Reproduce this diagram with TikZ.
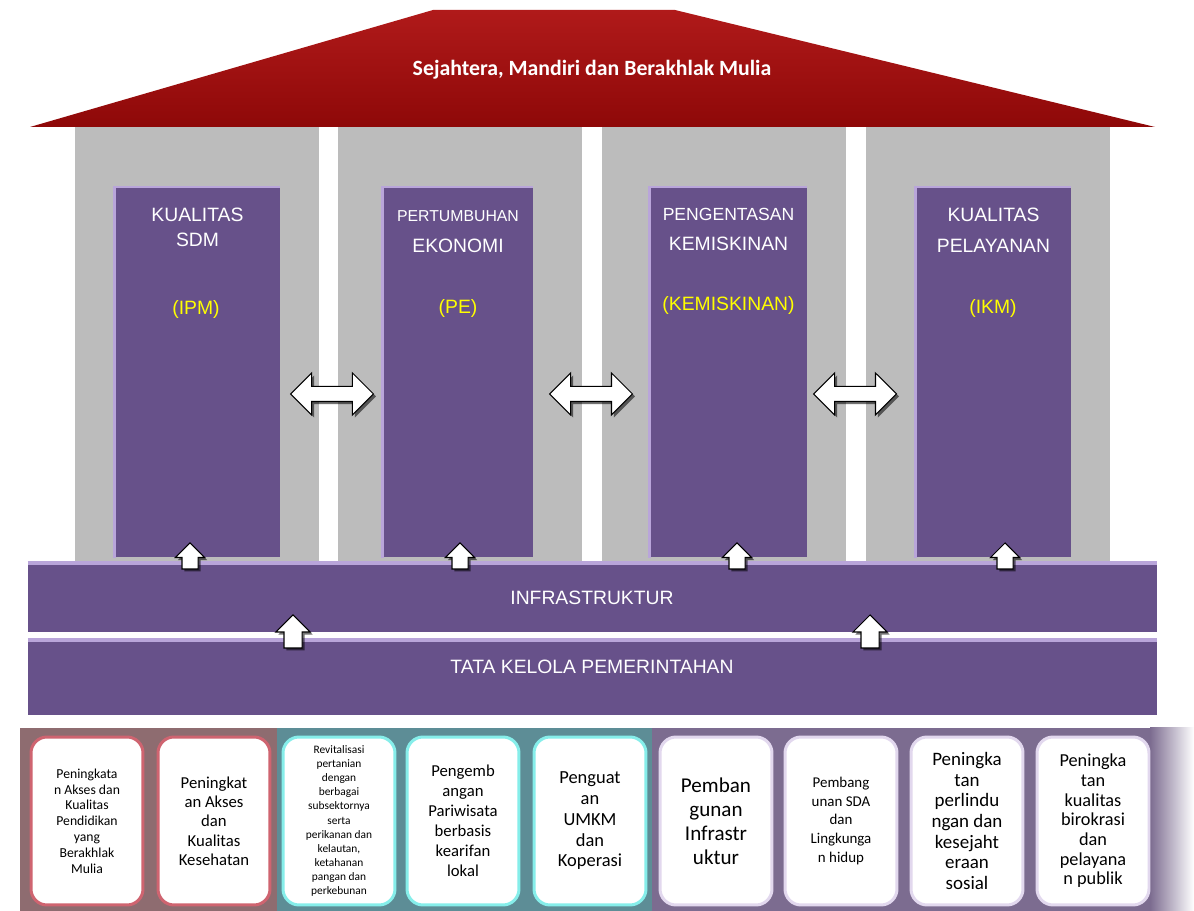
\documentclass[tikz,border=0pt]{standalone}
\usepackage{fontspec}
\setmainfont{Liberation Sans}
\newfontfamily\cardfont{Carlito}
\usetikzlibrary{shapes.arrows,shadows}
\definecolor{roofred}{HTML}{8E0808}
\definecolor{rooftop}{HTML}{B01A1A}
\definecolor{pillarpurple}{HTML}{67518A}
\definecolor{pillarlight}{HTML}{B9A5DA}
\definecolor{wallgray}{HTML}{BCBCBC}
\definecolor{labelyellow}{HTML}{FFFF00}
\definecolor{cardred}{HTML}{CF6470}
\definecolor{cardteal}{HTML}{86EEEA}
\definecolor{cardlilac}{HTML}{E2D8EE}
\definecolor{bandred}{HTML}{8E6C70}
\definecolor{bandteal}{HTML}{5D8D96}
\definecolor{bandlilac}{HTML}{7C6C90}

\begin{document}
\begin{tikzpicture}[x=0.02cm,y=-0.02cm,
  pillar/.style={fill=pillarpurple, anchor=north, minimum height=7.4cm, inner sep=0},
  bar/.style={fill=pillarpurple, minimum width=22.58cm, inner sep=0},
  bartext/.style={text=white, inner sep=0, font=\fontsize{11}{13}\selectfont},
  ptitle/.style={text=white, inner sep=0},
  pindex/.style={text=labelyellow, inner sep=0, font=\fontsize{11}{13}\selectfont},
  twoway/.style={double arrow, double arrow head extend=0.27cm, double arrow tip angle=90,
    minimum height=1.66cm, inner xsep=0, inner ysep=0.14cm, draw=black, line width=0.6pt, fill=white,
    drop shadow={shadow xshift=0.05cm, shadow yshift=-0.05cm, fill=black, opacity=0.55}},
  upsmall/.style={single arrow, rotate=90, single arrow head extend=0.13cm, single arrow tip angle=90,
    minimum height=0.52cm, inner xsep=0, inner ysep=0.15cm, draw=black, line width=0.6pt, fill=white,
    drop shadow={shadow xshift=0.05cm, shadow yshift=-0.05cm, fill=black, opacity=0.55}},
  upbig/.style={upsmall, single arrow head extend=0.16cm, minimum height=0.66cm, inner ysep=0.17cm},
  card/.style={draw=#1, line width=0.06cm, fill=white, rounded corners=0.32cm, minimum width=2.24cm,
    minimum height=3.36cm, align=center, inner sep=0}
]
\useasboundingbox (0,0) rectangle (1194,911);
\fill[white] (0,0) rectangle (1194,911);

\foreach \wx in {75,338,602,866}
  \fill[wallgray] (\wx,127) rectangle ++(244,436);

\shade[top color=rooftop, bottom color=roofred] (30,127) -- (433,10) -- (675,10) -- (1155,127) -- cycle;
\node[text=white, inner sep=0, font=\cardfont\bfseries\fontsize{12.4}{15}\selectfont] (motto) at (592,70) {Sejahtera, Mandiri dan Berakhlak Mulia};

\node[pillar, minimum width=3.3cm] (sdm) at (197.5,187) {};
\node[pillar, minimum width=3.0cm] (ekonomi) at (458,187) {};
\node[pillar, minimum width=3.14cm] (miskin) at (728.5,187) {};
\node[pillar, minimum width=3.1cm] (layan) at (993.5,187) {};
\foreach \p in {sdm,ekonomi,miskin,layan}
  \draw[pillarlight, line width=0.05cm] (\p.south west) -- (\p.north west) -- (\p.north east);

\node[ptitle, font=\fontsize{11}{13}\selectfont] (sdm1) at (197.5,215) {KUALITAS};
\node[ptitle, font=\fontsize{11}{13}\selectfont] (sdm2) at (197.5,240) {SDM};
\node[pindex] (ipm) at (196,310) {(IPM)};
\node[ptitle, font=\fontsize{9}{11}\selectfont] (eko1) at (458,216) {PERTUMBUHAN};
\node[ptitle, font=\fontsize{11}{13}\selectfont] (eko2) at (458,246) {EKONOMI};
\node[pindex] (pe) at (458,309) {(PE)};
\node[ptitle, font=\fontsize{10}{12}\selectfont] (mis1) at (728.5,214) {PENGENTASAN};
\node[ptitle, font=\fontsize{11}{13}\selectfont] (mis2) at (728.5,244) {KEMISKINAN};
\node[pindex] (kem) at (728.5,306) {(KEMISKINAN)};
\node[ptitle, font=\fontsize{11}{13}\selectfont] (lay1) at (993.5,215) {KUALITAS};
\node[ptitle, font=\fontsize{11}{13}\selectfont] (lay2) at (993.5,246) {PELAYANAN};
\node[pindex] (ikm) at (993,309) {(IKM)};

\node[twoway] (a12) at (332,394) {};
\node[twoway] (a23) at (591,394) {};
\node[twoway] (a34) at (855,394) {};

\node[bar, minimum height=1.38cm] (infra) at (592.5,597.5) {};
\node[bar, minimum height=1.5cm] (tata) at (592.5,677.5) {};
\foreach \b in {infra,tata}
  \draw[pillarlight, line width=0.08cm] (\b.north west) -- (\b.north east);
\node[bartext] (infratext) at (592,598) {INFRASTRUKTUR};
\node[bartext] (tatatext) at (592,667) {TATA KELOLA PEMERINTAHAN};

\foreach \p/\ux in {sdm/190,ekonomi/460,miskin/737,layan/1005}
  \node[upsmall] (up\p) at (\ux,560) {};
\node[upbig] (upleft) at (293,636) {};
\node[upbig] (upright) at (870,636) {};

\fill[bandred] (20,728) rectangle (277,911);
\fill[bandteal] (277,728) rectangle (652,911);
\fill[bandlilac] (652,728) rectangle (1150,911);
\shade[left color=bandlilac, right color=white] (1150,728) rectangle (1194,911);

\foreach \n/\cx/\col/\fs/\fb/\txt in {
  1/87/cardred/7.8/9/{Peningkata\\n Akses dan\\Kualitas\\Pendidikan\\yang\\Berakhlak\\Mulia},
  2/214/cardred/9.5/11/{Peningkat\\an Akses\\dan\\Kualitas\\Kesehatan},
  3/339/cardteal/6.5/8/{Revitalisasi\\pertanian\\dengan\\berbagai\\subsektornya\\serta\\perikanan dan\\kelautan,\\ketahanan\\pangan dan\\perkebunan},
  4/463/cardteal/9.5/11.4/{Pengemb\\angan\\Pariwisata\\berbasis\\kearifan\\lokal},
  5/590/cardteal/10.5/11.8/{Penguat\\an\\UMKM\\dan\\Koperasi},
  6/716/cardlilac/12/13.6/{Pemban\\gunan\\Infrastr\\uktur},
  7/841/cardlilac/8.5/10.6/{Pembang\\unan SDA\\dan\\Lingkunga\\n hidup},
  8/967/cardlilac/10.8/11.8/{Peningka\\tan\\perlindu\\ngan dan\\kesejaht\\eraan\\sosial},
  9/1093/cardlilac/10.4/11.2/{Peningka\\tan\\kualitas\\birokrasi\\dan\\pelayana\\n publik}}
  \node[card=\col, font={\cardfont\fontsize{\fs}{\fb}\selectfont}] (card\n) at (\cx,821) {\txt};
\end{tikzpicture}
\end{document}
